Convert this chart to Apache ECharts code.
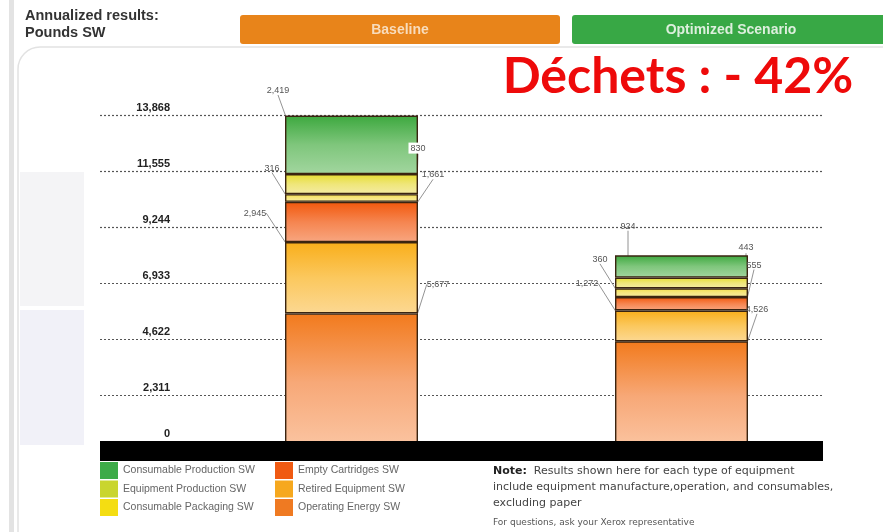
<!DOCTYPE html>
<html>
<head>
<meta charset="utf-8">
<title>Annualized results: Pounds SW</title>
<script src="https://cdn.jsdelivr.net/npm/echarts@6/dist/echarts.min.js"></script>
<style>
html,body{margin:0;padding:0;background:#fff;}
#show_sw_zzt{width:883px;height:532px;}
</style>
</head>
<body>
<div id="show_sw_zzt"></div>
<script>
// scenarios (x categories)
var scenarioArray = ['Baseline', 'Optimized Scenario'];
// series names, stacked bottom -> top
var nameArray = ['Operating Energy SW', 'Retired Equipment SW', 'Empty Cartridges SW',
	'Consumable Packaging SW', 'Equipment Production SW', 'Consumable Production SW'];
// values per scenario [Baseline, Optimized]
var operatingEnergy = [5677, 4526];
var retiredEquipment = [2945, 1272];
var emptyCartridges = [1661, 555];
var consumablePackaging = [316, 360];
var equipmentProduction = [830, 443];
var consumableProduction = [2419, 924];
// y axis
var axisMax = 13868;
var tickLabels = ['0', '2,311', '4,622', '6,933', '9,244', '11,555', '13,868'];

var valueArray = [operatingEnergy, retiredEquipment, emptyCartridges,
	consumablePackaging, equipmentProduction, consumableProduction];

// gradient stops, top -> bottom of each segment
var gradArray = [
	['#f27a1c', '#f7a877', '#fbc6a4'],
	['#f9ae1a', '#fbc85e', '#fcd892'],
	['#f2580c', '#f58550', '#f8a680'],
	['#f3df4a', '#f6e680', '#f8eca0'],
	['#e6de30', '#efe67a', '#f4eca4'],
	['#3ca83e', '#7fc67c', '#a2d69f']
];
// legend swatch colours
var legendColor = ['#ef7a22', '#f6a81e', '#f05a12', '#f4dd12', '#c9d52e', '#3dab48'];

// label placement: [side, dx, dy] per series per scenario
var labelPos = [
	[['r', 20, -29], ['r', 9, -32]],
	[['l', -30, -29], ['l', -28, -27]],
	[['r', 15, -27], ['r', 6, -32]],
	[['l', -13, -26], ['l', -15, -29]],
	[['r', 0, -26], ['r', -2, -30]],
	[['l', -7, -25], ['l', 13, -29]]
];

var interval = axisMax / 6;

function fmtNum(v){
	return String(v).replace(/\B(?=(\d{3})+(?!\d))/g, ',');
}

function getSeries(){
	var seriesArray = [];
	for (var i = 0; i < nameArray.length; i++) {
		var g = gradArray[i];
		seriesArray.push({
			name: nameArray[i],
			type: 'bar',
			stack: 'sw',
			xAxisIndex: 1,
			yAxisIndex: 1,
			barWidth: 133,
			data: valueArray[i],
			itemStyle: {
				color: new echarts.graphic.LinearGradient(0, 0, 0, 1, [
					{offset: 0, color: g[0]},
					{offset: 0.5, color: g[1]},
					{offset: 1, color: g[2]}
				]),
				borderColor: '#3a2410',
				borderWidth: 1.4
			},
			label: {
				show: true,
				formatter: function(p){ return fmtNum(p.value); },
				color: '#555',
				fontSize: 9,
				fontFamily: 'Liberation Sans',
				backgroundColor: (i == 4 ? '#fff' : 'transparent'),
				padding: (i == 4 ? [1, 2] : 0)
			},
			labelLine: {
				show: true,
				lineStyle: {color: '#777', width: 0.8}
			},
			labelLayout: (function(si){
				return function(p){
					var pos = labelPos[si][p.dataIndex];
					var x = pos[0] == 'l' ? p.rect.x + pos[1] : p.rect.x + p.rect.width + pos[1];
					return {x: x, y: p.rect.y + pos[2], align: 'center', verticalAlign: 'middle'};
				};
			})(i)
		});
	}
	return seriesArray;
}

function getLegend(names, left){
	var data = [];
	for (var i = 0; i < names.length; i++) {
		var idx = nameArray.indexOf(names[i]);
		data.push({name: names[i], itemStyle: {color: legendColor[idx], borderWidth: 0}});
	}
	return {
		data: data,
		orient: 'vertical',
		left: left,
		top: 462,
		padding: 0,
		itemWidth: 18,
		itemHeight: 17,
		itemGap: 1.5,
		icon: 'rect',
		selectedMode: false,
		textStyle: {color: '#666', fontSize: 10.5, fontFamily: 'Liberation Sans'}
	};
}

function getGraphic(){
	return [
		{type: 'rect', z: -10, shape: {x: 9, y: 0, width: 5, height: 532}, style: {fill: '#e3e3e3'}},
		{type: 'rect', z: -10, shape: {x: 18, y: 47, width: 900, height: 530, r: 22},
			style: {fill: '#fff', stroke: '#e2e2e2', lineWidth: 1.5}},
		{type: 'rect', z: -9, shape: {x: 20, y: 172, width: 64, height: 134}, style: {fill: '#f4f4f6'}},
		{type: 'rect', z: -9, shape: {x: 20, y: 310, width: 64, height: 135}, style: {fill: '#f1f1f8'}},
		{type: 'text', left: 25, top: 7, style: {text: 'Annualized results:\nPounds SW',
			font: 'bold 14.5px "Liberation Sans"', fill: '#333', lineHeight: 17}},
		{type: 'rect', shape: {x: 240, y: 15, width: 320, height: 29, r: 3}, style: {fill: '#e8841a'}},
		{type: 'text', x: 400, y: 30, style: {text: 'Baseline', font: 'bold 14px "Liberation Sans"',
			fill: '#f8dcbc', align: 'center', verticalAlign: 'middle'}},
		{type: 'rect', shape: {x: 572, y: 15, width: 320, height: 29, r: 3}, style: {fill: '#38a845'}},
		{type: 'text', x: 731, y: 30, style: {text: 'Optimized Scenario', font: 'bold 14px "Liberation Sans"',
			fill: '#ddefdd', align: 'center', verticalAlign: 'middle'}},
		{type: 'text', x: 678, y: 77, style: {text: 'Déchets : - 42%', font: 'bold 50px Lato',
			fill: '#ee0a0a', align: 'center', verticalAlign: 'middle'}},
		{type: 'text', left: 493, top: 463, style: {
			text: '{b|Note:}  Results shown here for each type of equipment\ninclude equipment manufacture,operation, and consumables,\nexcluding paper',
			font: '11px "DejaVu Sans"', fill: '#444', lineHeight: 16,
			rich: {b: {fontWeight: 'bold', fontSize: 11, fontFamily: 'DejaVu Sans', fill: '#222'}}}},
		{type: 'text', left: 493, top: 518, style: {text: 'For questions, ask your Xerox representative',
			font: '9px "DejaVu Sans"', fill: '#555'}}
	];
}

function initSwChart(){
	var chart = echarts.init(document.getElementById('show_sw_zzt'));
	var option = {
		backgroundColor: '#fff',
		animation: false,
		legend: [
			getLegend(['Consumable Production SW', 'Equipment Production SW', 'Consumable Packaging SW'], 100),
			getLegend(['Empty Cartridges SW', 'Retired Equipment SW', 'Operating Energy SW'], 275)
		],
		grid: [
			{left: 100, right: 60, top: 115, bottom: 81},
			{left: 186.5, right: 36.5, top: 115, bottom: 81}
		],
		xAxis: [
			{
				gridIndex: 0, type: 'category', data: [''], z: 10,
				axisLine: {lineStyle: {color: '#000', width: 20, cap: 'butt'}},
				axisTick: {show: false}, axisLabel: {show: false}
			},
			{
				gridIndex: 1, type: 'category', data: scenarioArray, show: false
			}
		],
		yAxis: [
			{
				gridIndex: 0, type: 'value', min: 0, max: axisMax, interval: interval,
				axisLine: {show: false}, axisTick: {show: false},
				splitLine: {lineStyle: {color: '#555', type: [2, 2], width: 1.2}},
				axisLabel: {
					margin: -70,
					verticalAlign: 'bottom',
					padding: [0, 0, 2, 0],
					color: '#222',
					fontWeight: 'bold',
					fontSize: 11,
					fontFamily: 'Liberation Sans',
					formatter: function(v){
						var k = Math.round(v / interval);
						return k == 0 ? '{z|' + tickLabels[0] + '}' : tickLabels[k];
					},
					rich: {z: {padding: [0, 0, 10, 0], fontWeight: 'bold', fontSize: 11, color: '#222'}}
				}
			},
			{
				gridIndex: 1, type: 'value', min: 0, max: axisMax, show: false
			}
		],
		graphic: getGraphic(),
		series: getSeries()
	};
	chart.setOption(option);
}

initSwChart();
</script>
</body>
</html>
